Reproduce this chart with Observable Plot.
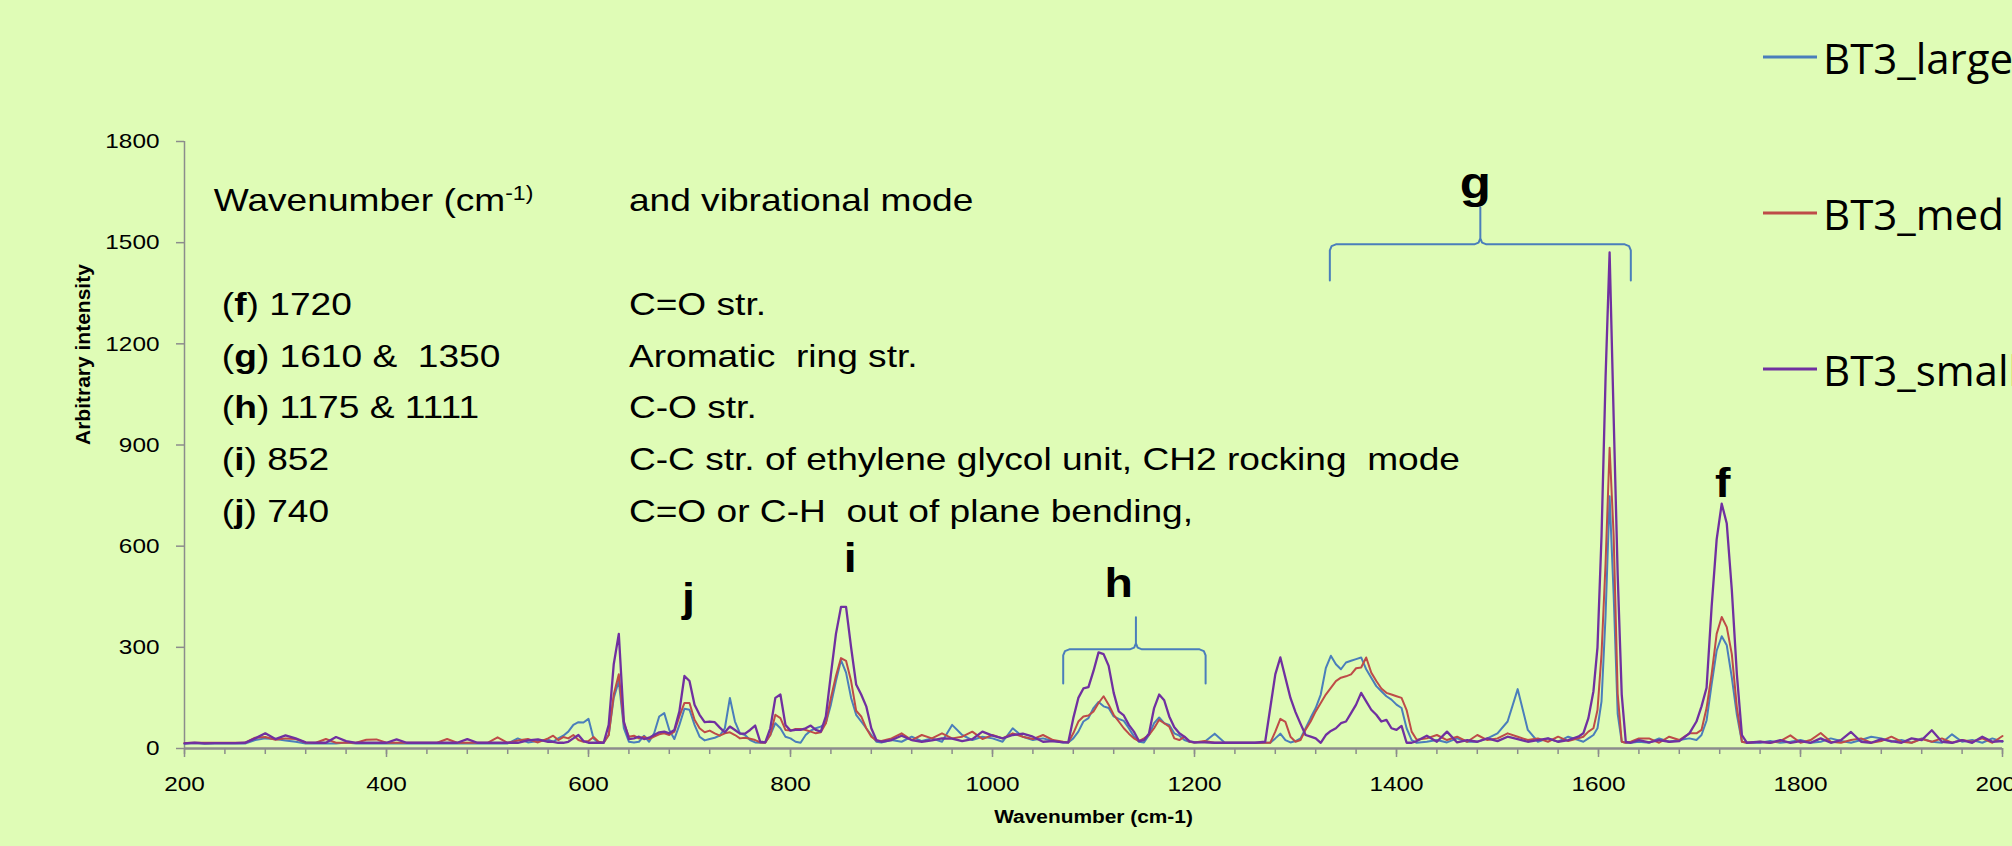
<!DOCTYPE html>
<html><head><meta charset="utf-8">
<script src="https://cdn.jsdelivr.net/npm/d3@7"></script>
<script src="https://cdn.jsdelivr.net/npm/@observablehq/plot@0.6"></script>
<style>
html,body{margin:0;padding:0;background:#dffcb6;overflow:hidden;width:2012px;height:846px}
#wrap{position:relative;width:2012px;height:846px;overflow:hidden}
svg text{white-space:pre}
.legend{position:absolute;left:0;top:0;width:2012px;height:846px;pointer-events:none;font-family:"Open Sans",sans-serif;font-size:42px;color:#000}
.item{position:absolute;left:1763px;display:flex;align-items:center;white-space:nowrap;transform:translateY(-50%)}
.sw{width:54px;height:2.5px;margin-right:6px}
</style></head><body><div id="wrap"></div>
<script>
// ---------- data ----------
const seriesNames = ["BT3_large", "BT3_med", "BT3_small"];
const seriesColors = ["#4a7ebb", "#be4b48", "#7030a0"];

const wavenumber = [
  200,210,220,230,240,250,260,270,280,290, 300,310,320,330,340,350,360,370,380,390,
  400,410,420,430,440,450,460,470,480,490, 500,510,520,530,540,550,560,
  565,570,575,580,585,590,595,600,605,610,615,620,625,
  630,635,640,645,650,655,660,665,670,675,680,685,690,
  695,700,705,710,715,720,725,730,735,740,745,750,755,
  760,765,770,775,780,785,790,795,800,805,810,815,820,
  825,830,835,840,845,850,855,860,865,870,875,880,885,
  890,900,910,920,930,940,950,960,970,980,990,1000,1010,1020,1030,1040,1050,1060,1070,
  1075,1080,1085,1090,1095,1100,1105,1110,1115,1120,1125,1130,1135,1140,1145,1150,1155,1160,1165,1170,1175,1180,1185,1190,1195,1200,
  1210,1220,1230,1240,1250,1260,1270,
  1275,1280,1285,1290,1295,1300,1305,1310,1315,1320,1325,1330,1335,1340,1345,1350,1355,1360,1365,1370,1375,1380,1385,1390,1395,1400,1405,1410,1415,1420,
  1430,1440,1450,1460,1470,1480,1490,1500,1510,1520,1530,1540,1550,1560,1570,1580,
  1585,1590,1595,1599,1603,1607,1611,1615,1619,1623,1627,1632,1640,
  1650,1660,1670,1680,1690,
  1697,1702,1707,1712,1717,1722,1727,1732,1737,1742,1747,
  1760,1770,1780,1790,1800,1810,1820,1830,1840,1850,1860,1870,1880,1890,1900,1910,1920,1930,1940,1950,1960,1970,1980,1990,2000
];

const bt3Large = [
  14,16,14,15,15,15,15,25,30,28, 24,20,15,15,15,15,18,15,15,15,
  15,15,15,15,15,15,15,15,15,15, 15,15,15,30,18,22,26,
  20,30,38,50,70,78,77,88,30,17,17,40,150,
  200,60,20,18,20,38,20,45,95,105,55,28,70,
  118,115,70,35,24,28,32,38,60,150,80,45,40,
  25,18,17,18,40,75,60,35,30,20,17,40,53,
  60,65,75,130,200,262,225,150,100,80,60,40,20,
  18,25,20,35,22,30,20,70,40,25,35,30,20,60,35,25,30,22,18,
  18,30,50,80,90,120,138,125,120,95,88,82,60,36,20,18,40,75,92,75,70,45,38,25,20,18,
  20,44,17,17,17,17,17,
  17,30,44,25,18,22,30,60,91,120,160,238,275,250,235,255,260,265,270,235,210,185,170,155,145,130,120,60,25,17,
  20,25,18,30,20,20,30,45,80,176,55,20,30,20,35,25,
  20,30,40,60,140,394,748,455,103,20,17,17,20,
  17,30,20,25,30,
  25,40,83,190,290,333,306,210,100,20,17,
  17,22,17,20,25,17,20,30,22,17,25,35,30,20,25,17,30,20,17,42,20,25,17,30,20
];

const bt3Med = [
  16,17,17,17,17,17,17,32,34,26, 30,28,18,17,28,17,17,17,26,27,
  17,17,17,17,17,17,28,17,17,17, 17,33,17,24,28,18,30,
  38,25,34,30,40,25,20,22,34,20,17,40,160,
  220,75,35,38,30,35,28,35,42,45,40,50,95,
  135,135,85,60,48,53,45,38,45,48,40,30,32,
  29,25,18,17,40,100,90,55,53,58,58,55,50,
  45,48,75,150,215,268,260,200,112,95,60,35,24,
  22,30,45,25,40,30,45,30,35,50,28,40,30,45,35,28,40,25,20,
  18,45,80,95,98,110,135,155,130,100,80,60,44,30,22,30,40,60,85,75,65,30,25,35,20,18,
  22,17,17,17,17,17,17,
  17,50,88,79,35,20,25,56,80,110,135,160,180,200,210,214,220,238,240,270,225,200,178,165,160,155,150,114,50,26,
  30,40,25,35,20,40,25,30,45,35,25,30,20,35,22,30,
  35,50,60,114,280,550,892,631,162,20,17,20,30,
  30,17,35,25,45,
  45,55,120,220,340,390,360,280,122,20,17,
  20,17,22,39,17,25,46,20,17,25,30,17,22,35,20,17,28,20,30,17,25,20,30,17,37
];

const bt3Small = [
  15,17,15,16,16,16,17,30,45,28, 39,30,18,17,17,34,22,17,17,17,
  17,27,17,17,17,17,17,17,28,17, 17,17,17,17,24,27,20,
  20,17,17,20,30,40,22,17,17,17,17,70,250,
  340,80,28,30,35,28,32,40,48,50,45,55,110,
  215,200,130,100,78,80,78,62,48,65,55,44,44,
  55,68,20,18,60,150,160,70,53,55,55,60,68,
  55,50,95,220,340,420,420,300,190,160,125,60,25,
  20,25,38,25,20,24,30,29,22,28,50,38,30,40,44,35,20,22,18,
  18,90,150,178,182,230,285,280,245,165,110,98,70,50,22,25,45,120,160,143,95,63,45,35,22,18,
  18,17,17,17,17,17,20,
  120,220,270,210,150,108,73,40,35,30,17,40,52,60,75,80,105,130,165,140,115,100,80,85,60,55,67,17,17,22,
  38,20,50,18,25,20,30,22,35,28,20,25,30,20,25,35,
  45,90,170,300,630,1100,1471,983,515,160,20,17,25,
  18,25,20,22,45,
  80,125,180,420,620,726,667,470,220,40,17,
  20,17,25,17,22,17,30,17,25,49,20,17,28,22,17,30,25,54,20,17,25,17,35,20,22
];

const yTicks = [0, 300, 600, 900, 1200, 1500, 1800];
const xTicks = [200, 400, 600, 800, 1000, 1200, 1400, 1600, 1800, 2000];

// annotation table
const tableHeader = ["Wavenumber (cm-1)", "and vibrational mode"];
const bandCodes = ["f", "g", "h", "i", "j"];
const bandWavenumbers = ["1720", "1610 &  1350", "1175 & 1111", "852", "740"];
const bandModes = ["C=O str.", "Aromatic  ring str.", "C-O str.",
  "C-C str. of ethylene glycol unit, CH2 rocking  mode", "C=O or C-H  out of plane bending,"];

// peak letters over the spectrum
const peakLetters = ["f", "g", "h", "i", "j"];
const peakLetterWn = [1723, 1478, 1125, 859, 699];
const peakLetterY = [783, 1674, 486, 560, 442];

// brackets (curly braces) grouping bands g and h
const bracketLeft = [1334, 1070];
const bracketRight = [1632, 1211];
const bracketTip = [1483, 1142];
const bracketBar = [1495, 294];
const bracketFoot = [1388, 193];
const bracketTop = [1604, 389];

if (bt3Large.length !== wavenumber.length || bt3Med.length !== wavenumber.length || bt3Small.length !== wavenumber.length)
  console.warn("length mismatch", wavenumber.length, bt3Large.length, bt3Med.length, bt3Small.length);

// ---------- build ----------
const seriesValues = [bt3Large, bt3Med, bt3Small];
const rows = seriesNames.map((s, k) => wavenumber.map((w, i) => ({series: s, wn: w, v: seriesValues[k][i]})));

function bracePath(k) {
  const L = bracketLeft[k], R = bracketRight[k], T = bracketTip[k];
  const bar = bracketBar[k], foot = bracketFoot[k], top = bracketTop[k];
  const rx = 6, ry = 18, c = 0.29;
  return [
    [L, foot], [L, bar - ry], [L + c * rx, bar - c * ry], [L + rx, bar],
    [T - rx, bar], [T - c * rx, bar + c * ry], [T, bar + ry], [T, top],
    [T, bar + ry], [T + c * rx, bar + c * ry], [T + rx, bar],
    [R - rx, bar], [R - c * rx, bar - c * ry], [R, bar - ry], [R, foot]
  ].map(([x, y]) => ({x, y, k}));
}
const braces = [0, 1].flatMap(bracePath);

const axisGray = "#8c8c8c";
const rowY = (i) => 1317 - i * 154;

const chart = Plot.plot({
  width: 2012, height: 846,
  marginLeft: 184, marginRight: 10, marginTop: 141, marginBottom: 98,
  style: {background: "#dffcb6", fontFamily: "'Liberation Sans', Arial, sans-serif"},
  x: {domain: [200, 2000]},
  y: {domain: [0, 1800]},
  marks: [
    Plot.axisY({ticks: yTicks, tickSize: 8, tickPadding: 17, fontSize: 21, stroke: axisGray, strokeWidth: 1.5, fill: "#000", tickFormat: d => String(d), label: null}),
    Plot.axisX({ticks: d3.range(200, 2001, 40), tickSize: 6, tickFormat: () => "", stroke: axisGray, strokeWidth: 1.5, label: null}),
    Plot.axisX({ticks: xTicks, tickSize: 9, tickPadding: 19, fontSize: 21, stroke: axisGray, strokeWidth: 1.5, fill: "#000", tickFormat: d => String(d), label: null}),
    Plot.ruleX([200], {stroke: axisGray, strokeWidth: 1.5}),
    Plot.ruleY([0], {stroke: axisGray, strokeWidth: 2.5}),
    ...rows.map((r, k) => Plot.line(r, {x: "wn", y: "v", stroke: seriesColors[k], strokeWidth: k === 2 ? 2.3 : 2})),
    Plot.line(braces, {x: "x", y: "y", z: "k", stroke: "#4a7ebb", strokeWidth: 2}),
    Plot.text(peakLetters, {x: (d, i) => peakLetterWn[i], y: (d, i) => peakLetterY[i], text: d => d,
      fontSize: d => d === "g" ? 44 : 40, fontWeight: "bold", fill: "#000"}),
    Plot.text([tableHeader[0]], {x: () => 229, y: () => 1625, text: d => d, textAnchor: "start", fontSize: 32, fill: "#000"}),
    Plot.text([tableHeader[1]], {x: () => 640, y: () => 1625, text: d => d, textAnchor: "start", fontSize: 32, fill: "#000"}),
    Plot.text(bandCodes, {x: () => 237, y: (d, i) => rowY(i), text: (d, i) => `(${d}) ${bandWavenumbers[i]}`, textAnchor: "start", fontSize: 32, fill: "#000"}),
    Plot.text(bandModes, {x: () => 640, y: (d, i) => rowY(i), text: d => d, textAnchor: "start", fontSize: 32, fill: "#000"}),
    Plot.text(["Arbitrary intensity"], {frameAnchor: "left", dx: -101, rotate: -90, text: d => d, fontSize: 21, fontWeight: "bold", fill: "#000"}),
    Plot.text(["Wavenumber (cm-1)"], {frameAnchor: "bottom", dy: 74, text: d => d, fontSize: 18, fontWeight: "bold", fill: "#000"})
  ]
});

// rich text: bold band letters and superscript in the table header
const S = 1.16;
d3.select(chart).selectAll("text").each(function () {
  const t = this.textContent;
  const sel = d3.select(this);
  const m = /^\(([a-j])\) (.*)$/.exec(t);
  if (m) {
    sel.text("");
    sel.append("tspan").text("(");
    sel.append("tspan").attr("font-weight", "bold").text(m[1]);
    sel.append("tspan").text(") " + m[2]);
  } else if (t === "Wavenumber (cm-1)" && !this.closest("g[font-weight='bold']")) {
    sel.text("");
    sel.append("tspan").text("Wavenumber (cm");
    sel.append("tspan").attr("font-size", "0.62em").attr("dy", "-11").text("-1)");
  }
  // horizontal stretch of the original picture's lettering
  const tr = this.getAttribute("transform") || "";
  if (/rotate/.test(tr)) return;
  const x = +this.getAttribute("x") || 0;
  this.setAttribute("transform", `${tr} translate(${x},0) scale(${S},1) translate(${-x},0)`);
});

const wrap = document.getElementById("wrap");
wrap.appendChild(chart);

// legend (top right)
const legend = document.createElement("div");
legend.className = "legend";
const legendY = [57, 213, 369];
seriesNames.forEach((s, k) => {
  const it = document.createElement("div");
  it.className = "item";
  it.style.top = legendY[k] + "px";
  const sw = document.createElement("span");
  sw.className = "sw";
  sw.style.background = seriesColors[k];
  const tx = document.createElement("span");
  tx.textContent = s;
  it.appendChild(sw); it.appendChild(tx);
  legend.appendChild(it);
});
wrap.appendChild(legend);
</script></body></html>
